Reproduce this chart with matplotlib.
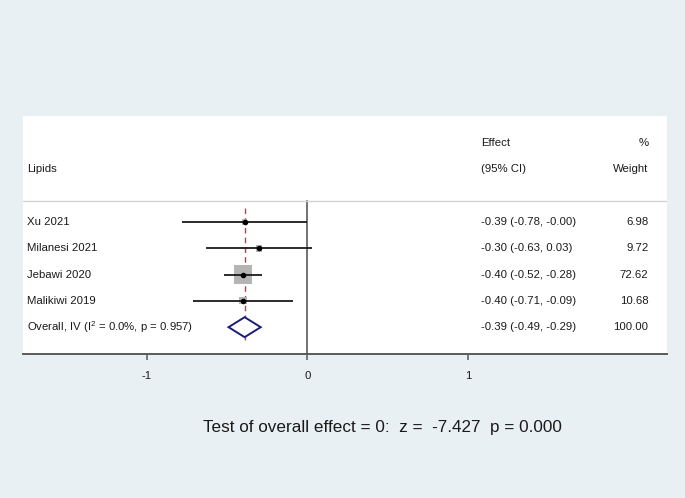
import matplotlib
matplotlib.use("Agg")
import matplotlib.pyplot as plt
from matplotlib.patches import Polygon
import numpy as np

plt.rcParams["font.family"] = ["Liberation Sans", "DejaVu Sans"]
plt.rcParams["mathtext.default"] = "regular"

BG = "#e9f0f3"
INK = "#1a1a1a"
AXIS = "#5a5a5a"

studies = ["Xu 2021", "Milanesi 2021", "Jebawi 2020", "Malikiwi 2019"]
effect = [-0.39, -0.30, -0.40, -0.40]
ci_lo = [-0.78, -0.63, -0.52, -0.71]
ci_hi = [-0.00, 0.03, -0.28, -0.09]
weight = [6.98, 9.72, 72.62, 10.68]

overall_label = "Overall, IV (I$^2$ = 0.0%, p = 0.957)"
overall = [-0.39, -0.49, -0.29]
overall_weight = 100.00
xticks = [-1, 0, 1]
test_text = "Test of overall effect = 0:  z =  -7.427  p = 0.000"

fig = plt.figure(figsize=(6.85, 4.98), dpi=100)
fig.patch.set_facecolor(BG)
ax = fig.add_axes([23 / 685, 1 - 354 / 498, 644 / 685, 238 / 498])
ax.set_facecolor("white")
ax.set_xlim(-1.77, 2.24)
ax.set_ylim(5.02, -4.03)

for s in ("top", "left", "right"):
    ax.spines[s].set_visible(False)
ax.spines["bottom"].set_color(AXIS)
ax.spines["bottom"].set_linewidth(1.4)
ax.set_yticks([])
ax.set_xticks(xticks)
ax.set_xticklabels([str(t) for t in xticks])
ax.tick_params(axis="x", direction="out", length=4, width=1.1, color=AXIS,
               labelsize=8.2, labelcolor=INK, pad=8)

fs = 8.2
# header
ax.axhline(-0.8, color="#d4d4d4", lw=1)
ax.text(-1.745, -2, "Lipids", fontsize=fs, color=INK, va="center")
ax.text(1.084, -3, "Effect", fontsize=fs, color=INK, va="center")
ax.text(1.084, -2, "(95% CI)", fontsize=fs, color=INK, va="center")
ax.text(2.125, -3, "%", fontsize=fs, color=INK, va="center", ha="right")
ax.text(2.125, -2, "Weight", fontsize=fs, color=INK, va="center", ha="right")

# reference lines
ax.plot([0, 0], [-0.8, 5.02], color=AXIS, lw=1.2, zorder=1)
ax.plot([overall[0], overall[0]], [-0.53, 4.49], color="#a0504c", lw=1.0,
        ls=(0, (4, 3)), zorder=2)

rows = np.arange(len(studies))
side_px = 18.5 * np.sqrt(np.array(weight) / max(weight))
sizes = (side_px * 72 / 100) ** 2
ax.scatter(effect, rows, s=sizes, marker="s", color="#b4b4b4", zorder=3,
           linewidths=0)
ax.hlines(rows, ci_lo, ci_hi, color=INK, lw=1.3, zorder=4)
ax.scatter(effect, rows, s=16, color="black", zorder=5, linewidths=0)

for r, name, e, lo, hi, w in zip(rows, studies, effect, ci_lo, ci_hi, weight):
    ax.text(-1.745, r, name, fontsize=fs, color=INK, va="center")
    ax.text(1.084, r, f"{e:.2f} ({lo:.2f}, {hi:.2f})", fontsize=fs, color=INK,
            va="center")
    ax.text(2.125, r, f"{w:.2f}", fontsize=fs, color=INK, va="center", ha="right")

# overall diamond
yo = len(studies)
e, lo, hi = overall
ax.add_patch(Polygon([[lo, yo], [e, yo - 0.38], [hi, yo], [e, yo + 0.38]],
                     closed=True, facecolor="white", edgecolor="#1c1c7a",
                     lw=1.4, zorder=6))
ax.text(-1.745, yo, overall_label, fontsize=fs, color=INK, va="center")
ax.text(1.084, yo, f"{e:.2f} ({lo:.2f}, {hi:.2f})", fontsize=fs, color=INK,
        va="center")
ax.text(2.125, yo, f"{overall_weight:.2f}", fontsize=fs, color=INK, va="center",
        ha="right")

fig.text(382 / 685, 1 - 427 / 498, test_text, fontsize=12.35, color=INK,
         ha="center", va="center")

fig.savefig("out.png", dpi=100, facecolor=BG)
